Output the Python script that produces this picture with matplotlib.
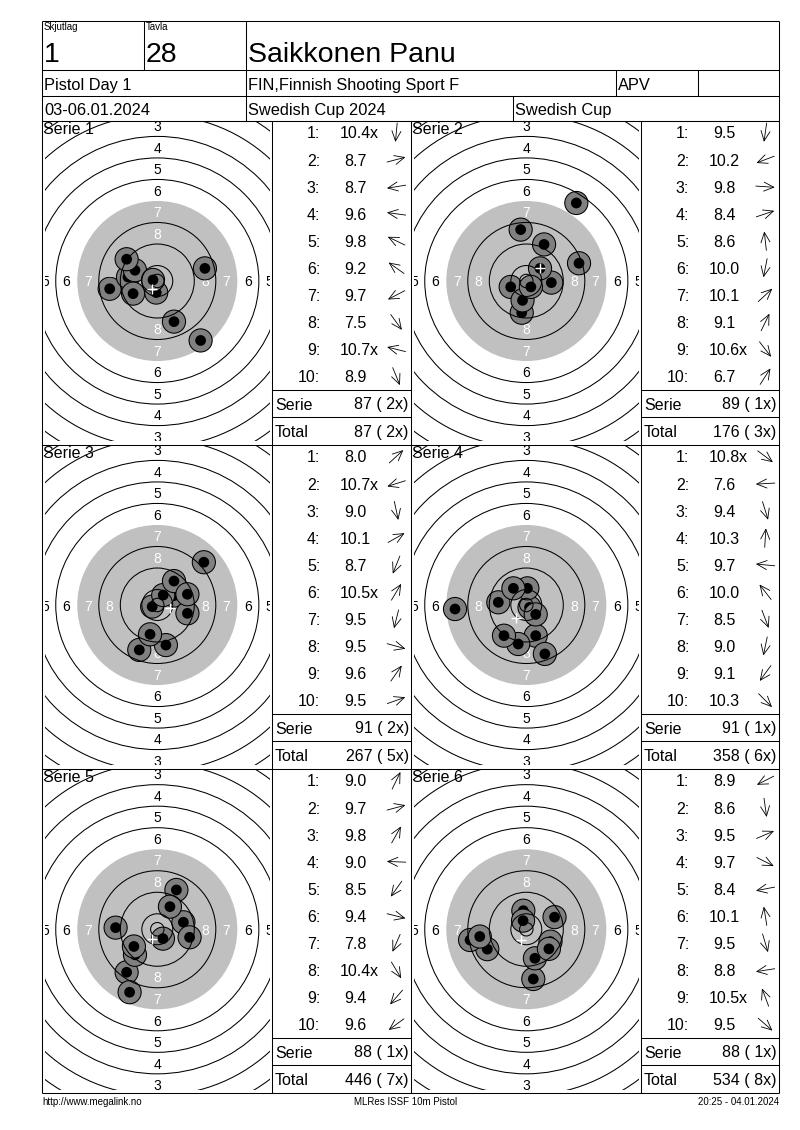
import numpy as np
import matplotlib
matplotlib.use("Agg")
import matplotlib.pyplot as plt
from matplotlib.patches import Circle

plt.rcParams["font.family"] = ["Liberation Sans", "DejaVu Sans"]

# header texts
skjutlag = "1"
tavla = "28"
shooter = "Saikkonen Panu"
event = "Pistol Day 1"
club = "FIN,Finnish Shooting Sport F"
klass = "APV"
dates = "03-06.01.2024"
competition = "Swedish Cup 2024"
cup = "Swedish Cup"
footer_left = "http://www.megalink.no"
footer_mid = "MLRes ISSF 10m Pistol"
footer_right = "20:25 - 04.01.2024"

# shot scores as printed, and shot positions (mm from centre, x right / y up)
s1_scores = ["10.4x", "8.7", "8.7", "9.6", "9.8", "9.2", "9.7", "7.5", "10.7x", "8.9"]
s1_x = [-0.4, 17.7, -17.7, -10.9, -8.3, -11.4, -9.0, 16.1, -1.6, 6.2]
s1_y = [-4.3, 4.7, -2.9, 1.5, 4.0, 8.1, -4.7, -22.1, 0.4, -15.1]

s2_scores = ["9.5", "10.2", "9.8", "8.4", "8.6", "10.0", "10.1", "9.1", "10.6x", "6.7"]
s2_x = [-1.7, -5.8, 9.3, 19.6, -2.1, -1.4, 5.1, 6.6, 1.7, 18.6]
s2_y = [-11.8, -2.2, -0.6, 6.6, 19.1, -7.2, 4.7, 13.6, -2.2, 29.0]

s3_scores = ["8.0", "10.7x", "9.0", "10.1", "8.7", "10.5x", "9.5", "9.5", "9.6", "9.5"]
s3_x = [17.3, -1.9, 3.2, 6.2, -6.7, 2.2, -2.7, 11.2, 6.2, 11.2]
s3_y = [15.9, -0.6, -14.9, 3.5, -16.7, 3.7, -10.9, -3.1, 8.9, 4.0]

s4_scores = ["10.8x", "7.6", "9.4", "10.3", "9.7", "10.0", "8.5", "9.0", "9.1", "10.3"]
s4_x = [1.2, -26.5, 3.5, 0.4, -10.4, -4.8, 6.9, -3.0, -8.3, 3.5]
s4_y = [-0.9, -1.5, -11.4, 6.2, 1.0, 6.2, -18.2, -14.5, -11.4, -3.5]

s5_scores = ["9.0", "9.7", "9.8", "9.0", "8.5", "9.4", "7.8", "10.4x", "9.4", "9.6"]
s5_x = [7.1, 9.7, 4.7, -15.5, -11.4, 12.0, -10.3, 2.1, -8.3, -8.7]
s5_y = [14.6, 2.6, 8.4, 0.6, -16.0, -3.0, -23.4, -3.5, -9.5, -6.4]

s6_scores = ["8.9", "8.6", "9.5", "9.7", "8.4", "10.1", "9.5", "8.8", "10.5x", "9.5"]
s6_x = [-14.5, 2.6, 10.5, 9.0, -20.9, -1.1, 3.2, -17.3, -1.2, 8.4]
s6_y = [-7.4, -18.5, 4.5, -4.6, -4.0, 6.9, -10.8, -2.7, 3.2, -7.3]

serie_sum = [87, 89, 91, 91, 88, 88]
serie_inner = [2, 1, 2, 1, 1, 1]
total_sum = [87, 176, 267, 358, 446, 534]
total_inner = [2, 3, 5, 6, 7, 8]

scores = [s1_scores, s2_scores, s3_scores, s4_scores, s5_scores, s6_scores]
shots_x = [s1_x, s2_x, s3_x, s4_x, s5_x, s6_x]
shots_y = [s1_y, s2_y, s3_y, s4_y, s5_y, s6_y]

# ---- layout (pixels) ----
W, H = 800, 1130
PX = 2.69          # pixels per mm on the targets
LW = 0.75
L, R, T, B = 42.3, 779, 20.5, 1093
cols = [42.3, 272.3, 411.3, 641.3, 779]
rows = [120.5, 444.5, 768.5, 1093]
GRAY = "#c0c0c0"

fig = plt.figure(figsize=(8, 11.3), dpi=100)
bg = fig.add_axes([0, 0, 1, 1])
bg.set_xlim(0, W)
bg.set_ylim(H, 0)
bg.axis("off")
bg.patch.set_visible(False)
bg.set_zorder(10)


def hline(y, x0, x1):
    bg.plot([x0, x1], [y, y], color="black", lw=LW, solid_capstyle="butt")


def vline(x, y0, y1):
    bg.plot([x, x], [y0, y1], color="black", lw=LW, solid_capstyle="butt")


# header box
for y in [T, 70, 95.5, 120.5]:
    hline(y, L, R)
vline(L, T, B)
vline(R, T, B)
vline(143.6, T, 70)
vline(246.3, T, 120.5)
vline(615.6, 70, 95.5)
vline(697.9, 70, 95.5)
vline(512.5, 95.5, 120.5)

bg.text(44, 27.5, "Skjutlag", fontsize=7, va="center")
bg.text(146, 27.5, "Tavla", fontsize=7, va="center")
bg.text(44, 52, skjutlag, fontsize=20.5, va="center_baseline")
bg.text(146, 52, tavla, fontsize=20.5, va="center_baseline")
bg.text(248, 52, shooter, fontsize=20.5, va="center_baseline")
bg.text(44, 84, event, fontsize=11.8, va="center_baseline")
bg.text(248, 84, club, fontsize=11.8, va="center_baseline")
bg.text(618, 84, klass, fontsize=11.8, va="center_baseline")
bg.text(44, 109, dates, fontsize=11.8, va="center_baseline")
bg.text(248, 109, competition, fontsize=11.8, va="center_baseline")
bg.text(515, 109, cup, fontsize=11.8, va="center_baseline")

# panel grid
for y in rows:
    hline(y, L, R)
for x in cols[1:-1]:
    vline(x, rows[0], rows[-1])

# footer
bg.text(L, 1102, footer_left, fontsize=7, va="center")
bg.text(406, 1102, footer_mid, fontsize=7, va="center", ha="center")
bg.text(R, 1102, footer_right, fontsize=7, va="center", ha="right")

ring_r = [5.75 + (10 - n) * 8 for n in range(1, 11)]
label_r = {n: 1.75 + (10 - n) * 8 for n in range(3, 9)}

for k in range(6):
    r_i, c_i = k // 2, k % 2
    top = rows[r_i]
    tx0 = cols[2 * c_i] + 2.5
    tw = cols[2 * c_i + 1] - cols[2 * c_i] - 5
    ty0 = top + 0.5
    th = rows[r_i + 1] - top - 4
    ax = fig.add_axes([tx0 / W, 1 - (ty0 + th) / H, tw / W, th / H])
    ax.set_xlim(-tw / 2 / PX, tw / 2 / PX)
    ax.set_ylim(-th / 2 / PX, th / 2 / PX)
    ax.axis("off")

    # black aiming area (grey) and rings
    ax.add_patch(Circle((0, 0), ring_r[6], fc=GRAY, ec="none", zorder=1))
    for n, r in enumerate(ring_r, start=1):
        if n == 7:
            continue
        ax.add_patch(Circle((0, 0), r, fill=False, ec="black", lw=LW, zorder=5))
    ax.add_patch(Circle((0, 0), 2.5, fill=False, ec="black", lw=LW, zorder=5))

    for n, r in label_r.items():
        col = "white" if n >= 7 else "black"
        pos = [(0, r), (0, -r)]
        if n >= 5:
            pos += [(-r, 0), (r, 0)]
        for px, py in pos:
            ax.text(px, py, str(n), color=col, fontsize=10, ha="center",
                    va="center_baseline", zorder=2, clip_on=True)

    xs, ys = shots_x[k], shots_y[k]
    for i, (sx, sy) in enumerate(zip(xs, ys)):
        ax.add_patch(Circle((sx, sy), 4.3, fc="#808080", ec="black", lw=LW, zorder=3 + i * 0.01))
        ax.add_patch(Circle((sx, sy), 2.0, fc="black", ec="none", zorder=3.005 + i * 0.01))
    ax.plot(np.mean(xs), np.mean(ys), marker="+", color="white", ms=7, mew=1.0, zorder=6)

    bg.text(cols[2 * c_i] + 1, top + 8.5, f"Serie {k + 1}", fontsize=11.5, va="center")

    # score table
    x0 = cols[2 * c_i + 1]
    x1 = cols[2 * c_i + 2]
    for i, s in enumerate(scores[k]):
        y = top + 12 + 27.1 * i
        bg.text(x0 + 48, y, f"{i + 1}:", fontsize=11.5, ha="right", va="center_baseline")
        bg.text(x0 + 83.4, y, s.rstrip("x"), fontsize=11.5, ha="center", va="center_baseline")
        if s.endswith("x"):
            bg.text(x0 + 97.5, y, "x", fontsize=11.5, ha="left", va="center_baseline")
        v = np.array([xs[i], ys[i]])
        u = v / np.hypot(*v)
        cx, cy, hl = x0 + 124, y, 9.5
        bg.annotate("", xy=(cx + u[0] * hl, cy - u[1] * hl),
                    xytext=(cx - u[0] * hl, cy + u[1] * hl),
                    arrowprops=dict(arrowstyle="->,head_length=0.55,head_width=0.25",
                                    lw=0.6, color="black", shrinkA=0, shrinkB=0,
                                    mutation_scale=13))
    hline(top + 269.5, x0, x1)
    hline(top + 296.8, x0, x1)
    bg.text(x0 + 2.5, top + 283, "Serie", fontsize=11.5, va="center_baseline")
    bg.text(x1 - 2.5, top + 283, f"{serie_sum[k]} ( {serie_inner[k]}x)", fontsize=11.5,
            ha="right", va="center_baseline")
    bg.text(x0 + 2.5, top + 310.5, "Total", fontsize=11.5, va="center_baseline")
    bg.text(x1 - 2.5, top + 310.5, f"{total_sum[k]} ( {total_inner[k]}x)", fontsize=11.5,
            ha="right", va="center_baseline")

fig.savefig("out.png", dpi=100, facecolor="white")
